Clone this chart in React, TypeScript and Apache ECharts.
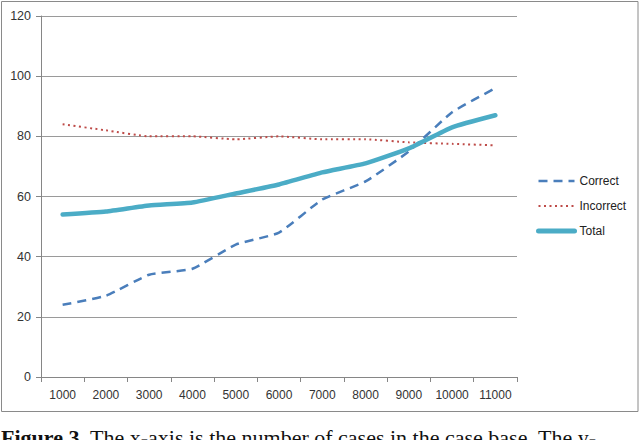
import React, { useEffect, useRef } from "react";
import * as echarts from "echarts";

const categories = ["1000", "2000", "3000", "4000", "5000", "6000", "7000", "8000", "9000", "10000", "11000"];
const correct = [24, 27, 34, 36, 44, 48, 59, 65, 75, 88, 96];
const incorrect = [84, 82, 80, 80, 79, 80, 79, 79, 78, 77.5, 77];
const total = [54, 55, 57, 58, 61, 64, 68, 71, 76, 83, 87];
const yTicks = { min: 0, max: 120, interval: 20 };
const seriesNames = ["Correct", "Incorrect", "Total"];
const captionBold = "Figure 3.";
const captionRest = " The x-axis is the number of cases in the case base. The y-";

export default function App() {
  const ref = useRef<HTMLDivElement>(null);
  useEffect(() => {
    document.body.style.margin = "0";
    const chart = echarts.init(ref.current!, null, { renderer: "svg" });
    const font = "Liberation Sans";
    const widths = [2.5, 2, 5];
    chart.setOption({
      animation: false,
      backgroundColor: "#ffffff",
      grid: { left: 41, right: 123, top: 16, bottom: 63, containLabel: false },
      legend: {
        orient: "vertical",
        left: 531,
        top: 170,
        itemWidth: 36,
        itemHeight: 10,
        itemGap: 13,
        data: seriesNames.map((n, i) => ({ name: n, lineStyle: { width: widths[i] } })),
        itemStyle: { opacity: 0 },
        textStyle: { fontFamily: font, fontSize: 12, color: "#222" },
      },
      xAxis: {
        type: "category",
        data: categories,
        boundaryGap: true,
        axisLine: { lineStyle: { color: "#868686", width: 1 } },
        axisTick: { show: true, length: 5, alignWithLabel: false, lineStyle: { color: "#868686" } },
        axisLabel: { fontFamily: font, fontSize: 12, color: "#333", margin: 12, interval: 0 },
        splitLine: { show: false },
      },
      yAxis: {
        type: "value",
        min: yTicks.min,
        max: yTicks.max,
        interval: yTicks.interval,
        axisLine: { show: true, lineStyle: { color: "#868686", width: 1 } },
        axisTick: { show: true, length: 5, lineStyle: { color: "#868686" } },
        axisLabel: { fontFamily: font, fontSize: 12.5, color: "#333", margin: 10 },
        splitLine: { show: true, lineStyle: { color: "#9a9a9a", width: 1 } },
      },
      series: [
        {
          name: seriesNames[0],
          type: "line",
          data: correct,
          symbol: "none",
          smooth: 0.15,
          lineStyle: { color: "#4a7ebb", width: widths[0], type: [9, 6] },
          itemStyle: { color: "#4a7ebb" },
        },
        {
          name: seriesNames[1],
          type: "line",
          data: incorrect,
          symbol: "none",
          smooth: 0.15,
          lineStyle: { color: "#be4b48", width: widths[1], type: [2, 3.5] },
          itemStyle: { color: "#be4b48" },
        },
        {
          name: seriesNames[2],
          type: "line",
          data: total,
          symbol: "none",
          smooth: 0.15,
          lineStyle: { color: "#4bacc6", width: 4.5, cap: "round" },
          itemStyle: { color: "#4bacc6" },
        },
      ],
      graphic: [
        {
          type: "rect",
          shape: { x: 1.5, y: 1.5, width: 636.5, height: 410 },
          style: { fill: "none", stroke: "#8a8a8a", lineWidth: 1 },
          silent: true,
        },
        {
          type: "text",
          x: 1,
          y: 426.5,
          style: {
            text: "{b|" + captionBold + "}{r|" + captionRest + "}",
            rich: {
              b: { fontFamily: "Liberation Serif", fontSize: 22, fontWeight: "bold", fill: "#111" },
              r: { fontFamily: "Liberation Serif", fontSize: 22, fill: "#111" },
            },
            verticalAlign: "top",
          },
        },
      ],
    });
    return () => chart.dispose();
  }, []);
  return <div ref={ref} style={{ position: "fixed", left: 0, top: 0, width: 640, height: 440 }} />;
}
